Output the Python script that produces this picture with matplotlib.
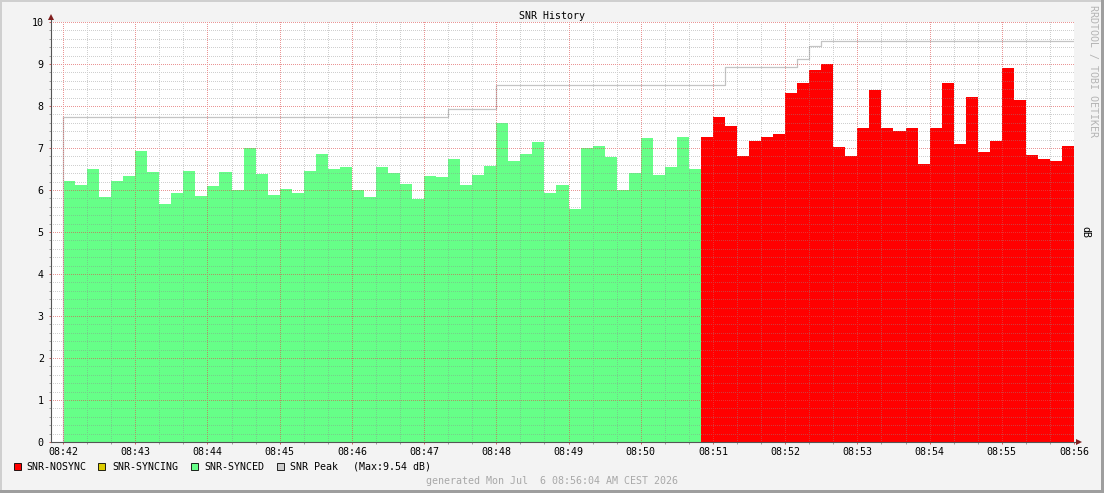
import matplotlib
matplotlib.use('Agg')
import matplotlib.pyplot as plt
import numpy as np
from matplotlib.patches import Rectangle
from matplotlib.ticker import MultipleLocator

# ---------------- data ----------------
step_seconds = 10
synced_values = [6.21, 6.12, 6.50, 5.83, 6.21, 6.33, 6.93, 6.43, 5.67, 5.93,
                 6.45, 5.86, 6.10, 6.43, 6.00, 7.00, 6.39, 5.88, 6.02, 5.93,
                 6.45, 6.86, 6.50, 6.55, 6.00, 5.83, 6.55, 6.40, 6.14, 5.79,
                 6.33, 6.31, 6.74, 6.12, 6.36, 6.57, 7.60, 6.69, 6.86, 7.14,
                 5.93, 6.12, 5.55, 7.00, 7.05, 6.79, 6.00, 6.40, 7.24, 6.36,
                 6.55, 7.26, 6.50]
nosync_values = [7.26, 7.74, 7.52, 6.81, 7.17, 7.26, 7.33, 8.31, 8.55, 8.86,
                 9.00, 7.02, 6.81, 7.48, 8.38, 7.48, 7.40, 7.48, 6.62, 7.48,
                 8.55, 7.10, 8.21, 6.90, 7.17, 8.90, 8.14, 6.83, 6.74, 6.69,
                 7.05]
peak_times = [0, 320, 360, 550, 610, 620, 630]          # seconds after 08:42
peak_values = [7.75, 7.94, 8.49, 8.92, 9.13, 9.44, 9.54]
x_tick_labels = ["08:42", "08:43", "08:44", "08:45", "08:46", "08:47", "08:48",
                 "08:49", "08:50", "08:51", "08:52", "08:53", "08:54", "08:55",
                 "08:56"]
y_ticks = [0, 1, 2, 3, 4, 5, 6, 7, 8, 9, 10]
legend_labels = ["SNR-NOSYNC", "SNR-SYNCING", "SNR-SYNCED", "SNR Peak"]
peak_max_label = "(Max:9.54 dB)"
title = "SNR History"
generated = "generated Mon Jul  6 08:56:04 AM CEST 2026"
watermark = "RRDTOOL / TOBI OETIKER"
unit = "dB"

# ---------------- style ----------------
C_BACK = '#f3f3f3'
C_SHADEA = '#cfcfcf'
C_SHADEB = '#9e9e9e'
C_GREEN = '#66ff88'
C_RED = '#ff0000'
C_YELLOW = '#dccc00'
C_PEAK = '#c4c4c4'
C_GRID = (0.56, 0.56, 0.56, 0.42)
C_MGRID = (0.87, 0.31, 0.31, 0.6)
C_AXIS = '#555555'
C_ARROW = '#801f1f'

plt.rcParams['font.family'] = ['DejaVu Sans Mono', 'DejaVu Sans']
FS = 7.2

W, H = 1104, 493
fig = plt.figure(figsize=(W / 100, H / 100), dpi=100, facecolor=C_BACK)


def fx(x):
    return x / W


def fy(y):
    return 1 - y / H


AX_L, AX_T, AX_W, AX_H = 51, 22, 1023, 420
ax = fig.add_axes([AX_L / W, (H - AX_T - AX_H) / H, AX_W / W, AX_H / H])
ax.set_facecolor('white')
for s in ax.spines.values():
    s.set_visible(False)

n_sync = len(synced_values)
n_nos = len(nosync_values)
t_sync = np.arange(n_sync) * step_seconds
t_nos = (n_sync + np.arange(n_nos)) * step_seconds
t_end = (n_sync + n_nos) * step_seconds

ax.bar(t_sync, synced_values, width=step_seconds, align='edge',
       color=C_GREEN, linewidth=0, zorder=1)
ax.bar(t_nos, nosync_values, width=step_seconds, align='edge',
       color=C_RED, linewidth=0, zorder=1)

px = list(peak_times) + [t_end]
py = list(peak_values) + [peak_values[-1]]
ax.step(px, py, where='post', color=C_PEAK, lw=0.9, zorder=1.2)
ax.vlines(peak_times[0], 0, peak_values[0], color=C_PEAK, lw=0.9, zorder=1.2)

XLIM = (-step_seconds, t_end)
YLIM = (0, 10)
ax.set_xlim(*XLIM)
ax.set_ylim(*YLIM)

ax.xaxis.set_major_locator(MultipleLocator(60))
ax.xaxis.set_minor_locator(MultipleLocator(20))
ax.yaxis.set_major_locator(MultipleLocator(1))
ax.yaxis.set_minor_locator(MultipleLocator(0.2))
ax.set_xticks(np.arange(len(x_tick_labels)) * 60)
ax.set_xticklabels(x_tick_labels)
ax.set_yticks(y_ticks)
ax.set_yticklabels([str(v) for v in y_ticks])

# ---- dotted pixel grid (rrdtool style), placed pixel-exact on the canvas ----
overlay = np.zeros((AX_H, AX_W, 4))


def yrow(v):
    return int(round((YLIM[1] - v) / (YLIM[1] - YLIM[0]) * AX_H))


def xcol(v):
    return int(round((v - XLIM[0]) / (XLIM[1] - XLIM[0]) * AX_W))


major_x = set(np.round(ax.xaxis.get_majorticklocs(), 6))
major_y = set(np.round(ax.yaxis.get_majorticklocs(), 6))
for v in ax.yaxis.get_minorticklocs():
    if round(v, 6) in major_y:
        continue
    r = yrow(v)
    if 0 <= r < AX_H:
        overlay[r, 0::2] = C_GRID
for v in ax.xaxis.get_minorticklocs():
    if round(v, 6) in major_x:
        continue
    c = xcol(v)
    if 0 <= c < AX_W:
        overlay[0::2, c] = C_GRID
for v in ax.yaxis.get_majorticklocs():
    r = yrow(v)
    if 0 <= r < AX_H:
        overlay[r, 0::2] = C_MGRID
for v in ax.xaxis.get_majorticklocs():
    c = xcol(v)
    if 0 <= c < AX_W:
        overlay[0::2, c] = C_MGRID
overlay[:, 0] = 0  # keep the y axis line clean

fig.figimage(overlay, xo=AX_L, yo=H - AX_T - AX_H, origin='upper', zorder=1)

ax.tick_params(which='both', direction='out', length=1.6, width=0.72,
               labelsize=FS, colors='#000000')
ax.tick_params(which='major', color='#d06060')
ax.tick_params(which='minor', color='#a0a0a0')
ax.tick_params(axis='y', pad=3.6)
ax.tick_params(axis='x', pad=2.2)

# axis lines with arrows
ax.plot([0, 0], [0, 1 + 4 / 420], transform=ax.transAxes, clip_on=False,
        color=C_AXIS, lw=0.8, zorder=5)
ax.plot([0, 1 + 5 / 1023], [0, 0], transform=ax.transAxes, clip_on=False,
        color=C_AXIS, lw=0.8, zorder=5)
ax.plot([0], [1 + 5 / 420], marker='^', ms=4, mew=0, color=C_ARROW,
        transform=ax.transAxes, clip_on=False, zorder=6)
ax.plot([1 + 5 / 1023], [0], marker='>', ms=4, mew=0, color=C_ARROW,
        transform=ax.transAxes, clip_on=False, zorder=6)

# frame shading
fig.add_artist(Rectangle((0, 1 - 2 / H), 1, 2 / H, transform=fig.transFigure,
                         color=C_SHADEA, lw=0))
fig.add_artist(Rectangle((0, 0), 2 / W, 1, transform=fig.transFigure,
                         color=C_SHADEA, lw=0))
fig.add_artist(Rectangle((0, 0), 1, 3 / H, transform=fig.transFigure,
                         color=C_SHADEB, lw=0))
fig.add_artist(Rectangle((1 - 3 / W, 0), 3 / W, 1, transform=fig.transFigure,
                         color=C_SHADEB, lw=0))

# texts
fig.text(fx(552), fy(16), title, ha='center', va='center', fontsize=FS)
fig.text(fx(552), fy(481), generated, ha='center', va='center', fontsize=FS,
         color='#a8a8a8')
fig.text(fx(1093), fy(71), watermark, ha='center', va='center', fontsize=FS,
         color='#b4b4b4', rotation=270)
fig.text(fx(1085), fy(232), unit, ha='center', va='center', fontsize=FS,
         rotation=270)

# legend
legend_colors = [C_RED, C_YELLOW, C_GREEN, '#cccccc']
box_x = [13.5, 98, 191, 277]
text_x = [26, 112, 204.5, 290.5]
for lab, col, bx, tx in zip(legend_labels, legend_colors, box_x, text_x):
    fig.add_artist(Rectangle((fx(bx), fy(470)), 7 / W, 7 / H,
                             transform=fig.transFigure, facecolor=col,
                             edgecolor='#000000', lw=0.6))
    fig.text(fx(tx), fy(466.5), lab, ha='left', va='center', fontsize=FS)
fig.text(fx(352.7), fy(466.5), peak_max_label, ha='left', va='center',
         fontsize=FS)

fig.savefig('out.png', dpi=100, facecolor=fig.get_facecolor())
